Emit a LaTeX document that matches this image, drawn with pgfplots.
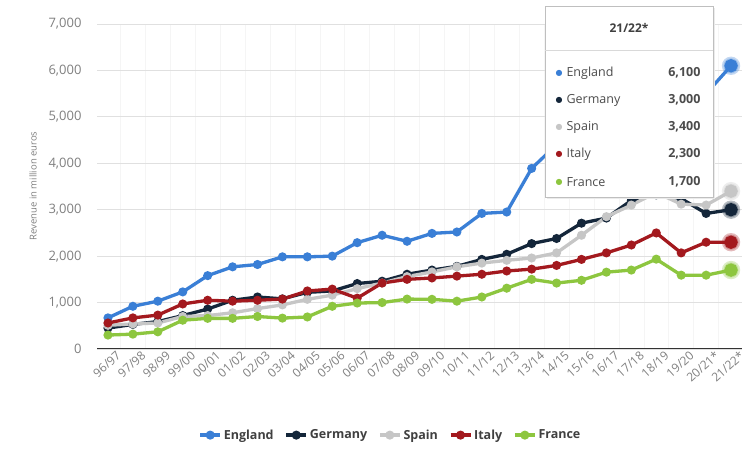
\documentclass[border=0pt]{standalone}
\usepackage{fontspec}
\setmainfont{Open Sans}
\newfontfamily\symfont{DejaVu Sans}
\usepackage{pgfplots}
\pgfplotsset{compat=1.18}

\definecolor{cEng}{HTML}{3A7FD6}
\definecolor{cGer}{HTML}{14263A}
\definecolor{cSpa}{HTML}{C6C6C6}
\definecolor{cIta}{HTML}{A3191E}
\definecolor{cFra}{HTML}{8DC63F}

% revenue in million euros, seasons 96/97 (0) to 21/22* (25)
\pgfplotstableread{
x eng ger spa ita fra
0 670 450 510 560 300
1 920 530 540 670 320
2 1030 590 560 730 370
3 1230 720 700 970 620
4 1580 860 720 1050 660
5 1770 1050 780 1030 660
6 1820 1120 870 1050 700
7 1985 1080 950 1075 665
8 1985 1220 1070 1250 690
9 2000 1250 1160 1290 920
10 2290 1410 1300 1095 990
11 2450 1460 1420 1420 1000
12 2320 1610 1560 1500 1075
13 2490 1700 1660 1530 1070
14 2520 1780 1770 1570 1030
15 2920 1930 1850 1610 1120
16 2950 2040 1910 1680 1310
17 3890 2270 1960 1720 1500
18 4400 2380 2070 1800 1420
19 4860 2710 2450 1930 1480
20 5300 2820 2850 2070 1655
21 5440 3200 3100 2240 1700
22 5850 3320 3370 2500 1935
23 5080 3240 3120 2070 1590
24 5500 2920 3100 2300 1590
25 6100 3000 3400 2300 1700
}\revenue

\pgfplotstableread{
x eng ger spa ita fra
25 6100 3000 3400 2300 1700
}\lastseason

\begin{document}
\begin{tikzpicture}[x=1pt,y=1pt]
\useasboundingbox[fill=white] (0,0) rectangle (750,473);
\begin{axis}[
    at={(97pt,124pt)}, anchor=south west,
    scale only axis, width=645pt, height=325pt,
    xmin=-0.44, xmax=25.44, ymin=0, ymax=7000,
    clip=false,
    separate axis lines,
    axis x line*=bottom,
    x axis line style={draw=black!80, line width=1pt, -},
    axis y line*=left,
    y axis line style={draw=none},
    major tick length=0pt, minor tick length=0pt,
    ytick={0,1000,...,7000},
    scaled y ticks=false,
    ymajorgrids, grid style={black!12, line width=0.8pt},
    minor xtick={-0.5,0.5,...,25.5},
    xminorgrids, minor grid style={black!4, line width=0.6pt},
    xtick={0,...,25},
    xticklabels={96/97,97/98,98/99,99/00,00/01,01/02,02/03,03/04,04/05,05/06,06/07,07/08,08/09,09/10,10/11,11/12,12/13,13/14,14/15,15/16,16/17,17/18,18/19,19/20,20/21*,21/22*},
    x tick label style={rotate=42, anchor=north east, inner sep=0pt,
        font=\fontsize{12}{12}\selectfont, text=black!50, xshift=5pt, yshift=-6pt},
    y tick label style={font=\fontsize{13}{13}\selectfont, text=black!50,
        /pgf/number format/1000 sep={,}, /pgf/number format/assume math mode=true,
        xshift=-12pt},
    every axis plot/.append style={line width=3.3pt, mark=*, mark size=2.8pt},
    legend style={at={(0.455,-0.265)}, anchor=center, legend columns=-1,
        draw=none, fill=none, font=\bfseries\fontsize{12.5}{14}\selectfont, text=black!75,
        /tikz/every even column/.append style={column sep=9pt}},
    legend image code/.code={\draw[mark repeat=2,mark phase=2,#1]
        plot coordinates {(0pt,0pt) (10pt,0pt) (20pt,0pt)};},
]
\addplot[cEng] table[x=x, y=eng] {\revenue};
\addplot[cGer] table[x=x, y=ger] {\revenue};
\addplot[cSpa] table[x=x, y=spa] {\revenue};
\addplot[cIta] table[x=x, y=ita] {\revenue};
\addplot[cFra] table[x=x, y=fra] {\revenue};
\legend{England, Germany, Spain, Italy, France}

% highlighted last season
\addplot[forget plot, only marks, cEng, mark size=7.5pt, opacity=0.3] table[x=x, y=eng] {\lastseason};
\addplot[forget plot, only marks, cEng, mark size=5pt] table[x=x, y=eng] {\lastseason};
\addplot[forget plot, only marks, cGer, mark size=7.5pt, opacity=0.3] table[x=x, y=ger] {\lastseason};
\addplot[forget plot, only marks, cGer, mark size=5pt] table[x=x, y=ger] {\lastseason};
\addplot[forget plot, only marks, cSpa, mark size=7.5pt, opacity=0.3] table[x=x, y=spa] {\lastseason};
\addplot[forget plot, only marks, cSpa, mark size=5pt] table[x=x, y=spa] {\lastseason};
\addplot[forget plot, only marks, cIta, mark size=7.5pt, opacity=0.3] table[x=x, y=ita] {\lastseason};
\addplot[forget plot, only marks, cIta, mark size=5pt] table[x=x, y=ita] {\lastseason};
\addplot[forget plot, only marks, cFra, mark size=7.5pt, opacity=0.3] table[x=x, y=fra] {\lastseason};
\addplot[forget plot, only marks, cFra, mark size=5pt] table[x=x, y=fra] {\lastseason};
\end{axis}

% y axis title
\node[rotate=90, font=\fontsize{9.5}{10}\selectfont, text=black!50] at (33,287) {Revenue in million euros};

% tooltip
\fill[black!8] (547,274) rectangle (715,465);
\draw[black!25, fill=white, line width=0.8pt] (545,276) rectangle (713,467);
\draw[black!15, line width=0.8pt] (545,423) -- (713,423);
\node[font=\bfseries\fontsize{12}{14}\selectfont, text=black!75] at (629,445) {21/22*};
\foreach \y/\c/\n/\v in {400/cEng/England/{6,100}, 373/cGer/Germany/{3,000},
    346/cSpa/Spain/{3,400}, 319/cIta/Italy/{2,300}, 291/cFra/France/{1,700}} {
  \node[text=\c, font=\symfont\fontsize{8}{9}\selectfont] at (559,\y) {●};
  \node[anchor=west, font=\fontsize{12.5}{14}\selectfont, text=black!70] at (563,\y) {\n};
  \node[anchor=east, font=\bfseries\fontsize{12.5}{14}\selectfont, text=black!70] at (704,\y) {\v};
}
\end{tikzpicture}
\end{document}
